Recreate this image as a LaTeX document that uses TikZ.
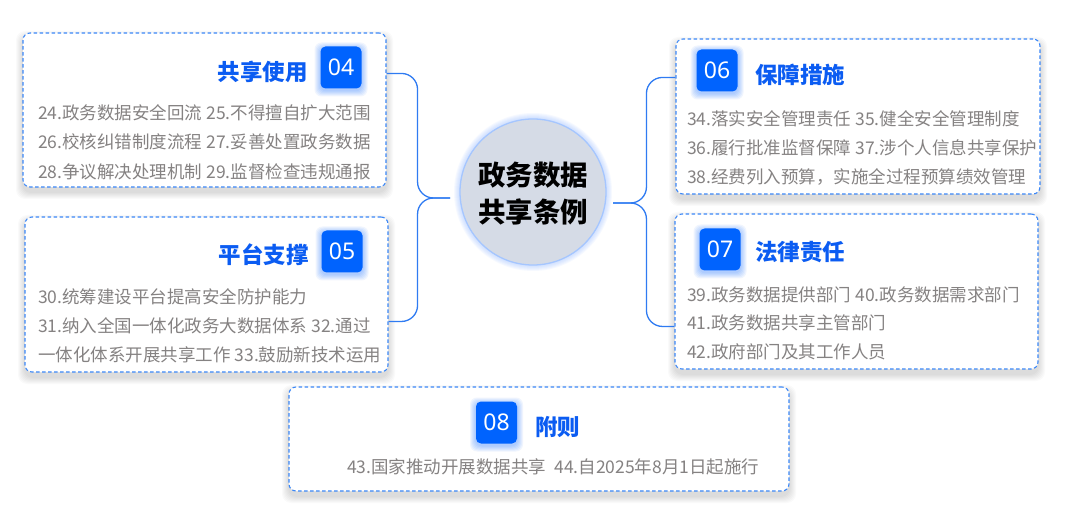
\documentclass[tikz,border=0pt]{standalone}
\usepackage{fontspec}
\setmainfont{Noto Sans CJK SC}
\newfontfamily\numfont{Noto Sans}
\definecolor{dashblue}{HTML}{3B87F7}
\definecolor{connblue}{HTML}{2F7BF2}
\definecolor{titleblue}{HTML}{0B5CF2}
\definecolor{badgeblue}{HTML}{0063FE}
\definecolor{txtgray}{HTML}{858282}
\definecolor{circfill}{HTML}{D5DBE6}
\definecolor{glowblue}{HTML}{8FB8FF}
\tikzset{
  box/.style={draw=dashblue, line width=1.1pt, dash pattern=on 3.5pt off 2.5pt, rounded corners=7pt, fill=white, inner sep=0pt},
  badge/.style={fill=badgeblue, rounded corners=5pt, minimum width=41pt, minimum height=42pt, inner sep=0pt, text=white, font=\numfont\fontsize{23}{24}\selectfont},
  title/.style={text=titleblue, inner sep=0pt, font=\fontsize{22.5}{26}\selectfont\bfseries, text height=19.4pt, text depth=2.7pt},
  txt/.style={text=txtgray, inner sep=0pt, anchor=west, font=\fontsize{17.5}{20}\selectfont, text height=15pt, text depth=2.1pt},
  ctext/.style={text=black, inner sep=0pt, font=\fontsize{27.5}{30}\selectfont\bfseries, text height=23.7pt, text depth=3.3pt},
  conn/.style={draw=connblue, line width=1.3pt, rounded corners=16pt}
}
\newcommand\mybox[5]{%
  \foreach \s in {1,...,7}{\fill[black,opacity=0.02,rounded corners=9pt] (#2-#4/2-\s, #3-#5/2-\s+5) rectangle (#2+#4/2+\s, #3+#5/2+\s+5);}
  \node[box, minimum width=#4, minimum height=#5] (#1) at (#2,#3) {};}
\newcommand\mybadge[4]{%
  \foreach \s in {1,...,6}{\fill[badgeblue,opacity=0.06,rounded corners=7pt] (#2-20.5-\s, #3-21-\s+2) rectangle (#2+20.5+\s, #3+21+\s+2);}
  \node[badge] (#1) at (#2,#3) {#4};}
\begin{document}
\begin{tikzpicture}[x=1pt,y=-1pt]
\useasboundingbox (0,0) rectangle (1080,505);
\fill[white] (0,0) rectangle (1080,505);

% boxes
\mybox{b04}{204.5}{110}{363}{154}
\mybox{b05}{206.5}{294.5}{363}{155}
\mybox{b06}{858}{116.5}{364}{155}
\mybox{b07}{856.5}{291.5}{363}{155}
\mybox{b08}{539}{439}{500}{104}

% connector end points
\path (b04.north east) ++(0,41) coordinate (e04);
\path (b05.north east) ++(0,105) coordinate (e05);
\path (b06.north west) ++(0,39) coordinate (e06);
\path (b07.north west) ++(0,113) coordinate (e07);
\coordinate (tipL) at (450,198);
\coordinate (tipR) at (613,203);

\draw[conn] (e04) -- ++(31,0) |- (tipL);
\draw[conn] (e05) -- ++(29,0) |- (tipL);
\draw[conn] (e06) -- ++(-29,0) |- (tipR);
\draw[conn] (e07) -- ++(-28,0) |- (tipR);

% centre circle
\foreach \s in {1,...,6}{\fill[glowblue,opacity=0.08] (533,192) circle ({73+\s});}
\node[circle, fill=circfill, draw=glowblue!80, line width=1.3pt, minimum size=146pt, inner sep=0pt] (hub) at (533,192) {};
\node[ctext] (hub1) at (533,175) {政务数据};
\node[ctext] (hub2) at (533,212) {共享条例};

% box 04
\mybadge{bd04}{341}{67.5}{04}
\node[title, anchor=east] (t04) at (308,72) {共享使用};
\node[txt] (l04a) at (38,113) {24.政务数据安全回流 25.不得擅自扩大范围};
\node[txt] (l04b) at (38,142) {26.校核纠错制度流程 27.妥善处置政务数据};
\node[txt] (l04c) at (38,172) {28.争议解决处理机制 29.监督检查违规通报};

% box 05
\mybadge{bd05}{342}{251.5}{05}
\node[title, anchor=east] (t05) at (309,255) {平台支撑};
\node[txt] (l05a) at (38,297) {30.统筹建设平台提高安全防护能力};
\node[txt] (l05b) at (38,326) {31.纳入全国一体化政务大数据体系 32.通过};
\node[txt] (l05c) at (38,355) {一体化体系开展共享工作 33.鼓励新技术运用};

% box 06
\mybadge{bd06}{717}{70.5}{06}
\node[title, anchor=west] (t06) at (755,75) {保障措施};
\node[txt] (l06a) at (687,119) {34.落实安全管理责任 35.健全安全管理制度};
\node[txt] (l06b) at (687,148) {36.履行批准监督保障 37.涉个人信息共享保护};
\node[txt] (l06c) at (687,177) {38.经费列入预算，实施全过程预算绩效管理};

% box 07
\mybadge{bd07}{720}{249.5}{07}
\node[title, anchor=west] (t07) at (755,252) {法律责任};
\node[txt] (l07a) at (687,295) {39.政务数据提供部门 40.政务数据需求部门};
\node[txt] (l07b) at (687,323) {41.政务数据共享主管部门};
\node[txt] (l07c) at (687,352) {42.政府部门及其工作人员};

% box 08
\mybadge{bd08}{496.5}{422.5}{08}
\node[title, anchor=west] (t08) at (535,427) {附则};
\node[txt] (l08a) at (347,467) {43.国家推动开展数据共享\ \ 44.自2025年8月1日起施行};
\end{tikzpicture}
\end{document}
